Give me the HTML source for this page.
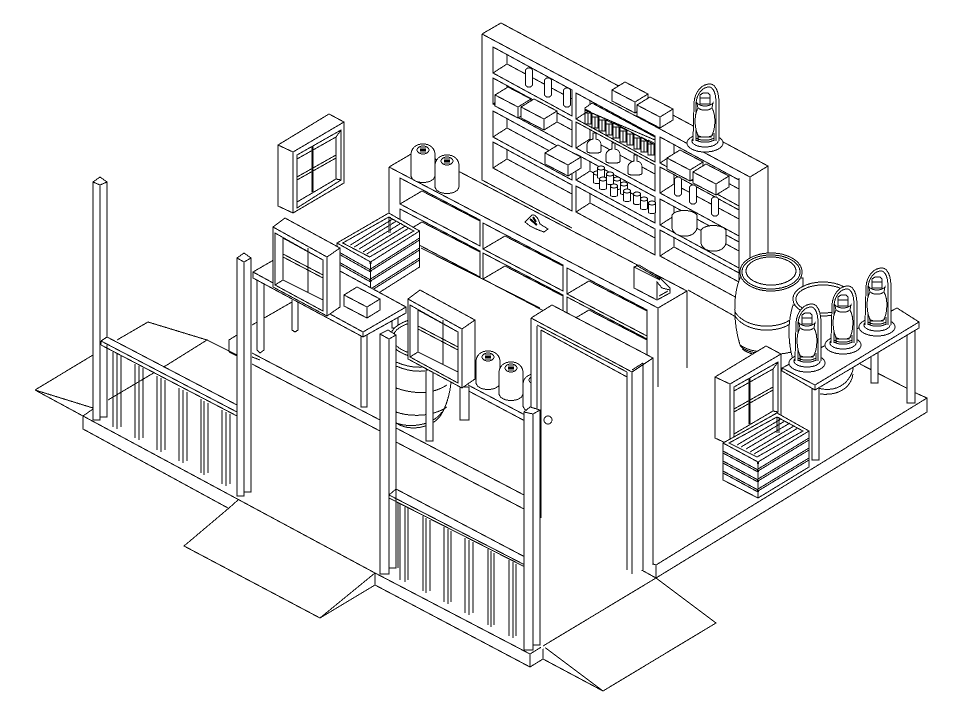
<!DOCTYPE html>
<html><head><meta charset="utf-8"><style>html,body{margin:0;padding:0;background:#fff}svg{display:block}</style></head><body>
<svg xmlns="http://www.w3.org/2000/svg" width="979" height="706" viewBox="0 0 979 706" fill="#fff" stroke="#000" stroke-width="1" shape-rendering="crispEdges">
<defs>
<g id="c1"><path d="M0,0 L79,43 V69 L0,26Z"/><path fill="none" d="M0,26 L14,17 L79,52 M14,8 V17"/></g>
<g id="c2"><path d="M0,0 L80,42 V68 L0,26Z"/><path fill="none" d="M0,26 L22,13 L80,43"/></g>
<g id="box"><path d="M0,0 L13,-8 L36,4 V15 L23,23 L0,11Z"/><path fill="none" d="M0,0 L23,12 L36,4 M23,12 V23"/></g>
<g id="winA"><path d="M0,0 L51,-31 L66,-23 V38 L15,68 L0,61Z"/><path fill="none" d="M0,0 L15,7 V68 M15,7 L66,-23 M19,10 L63,-15 V35 L19,63Z M19,14 L58,-8 V34 L19,57Z M19,10 V14 M63,-15 L58,-8 M63,35 L58,34 M19,63 L19,57 M34,1 V47 M35,1 V47 M19,32 L58,10 M19,35 L58,13"/></g>
<g id="winB"><path d="M0,0 L12,-9 L67,21 V80 L54,89 L0,60Z"/><path fill="none" d="M0,0 L54,30 L67,21 M54,30 V89 M2,6 L50,33 V84 L2,58Z M10,11 L50,33 M10,11 V53 L50,73 M2,58 L10,53 M35,21 V66 M10,27 L50,48 M10,30 L50,51"/></g>
<g id="jug"><path d="M-12,0 C-12,-7 -7,-11 0,-11 C7,-11 12,-7 12,0 V20 C12,30 -12,30 -12,20Z"/><ellipse cx="0" cy="-5" rx="6" ry="4"/><path fill="none" stroke-width="2" d="M-3,-5 H3"/><path fill="none" d="M-3,-7 H3 M-3,-3 H3"/></g>
<g id="lan"><ellipse cx="0" cy="0" rx="18" ry="9"/><ellipse cx="0" cy="-2" rx="13" ry="6"/><path d="M-12,-2 L-11,-40 C-10,-52 -3,-59 5,-59 C11,-59 14,-50 14,-40 L14,-2"/><path fill="none" d="M-9,-2 L-9,-40 C-8,-50 -2,-56 4,-56 C9,-56 11,-48 11,-40 L11,-2 M-7,-2 L-7,-10 M9,-2 L9,-10"/><path d="M-7,-35 C-11,-28 -11,-14 -6,-6 H6 C11,-14 11,-28 7,-35Z"/><path d="M-8,-40 C-4,-36 4,-36 8,-40 L7,-35 C3,-32 -3,-32 -7,-35Z"/><path d="M-5,-48 L-2,-50 H3 L5,-48 V-39 H-5Z"/><path fill="none" d="M-5,-45 H5 M-8,-8 C-4,-5 4,-5 8,-8 M-9,-5 C-4,-2 4,-2 9,-5 M-9,-3 C-4,0 4,0 9,-3"/></g>
<g id="crate"><path d="M0,0 L54,-30 L86,-12 V24 L35,55 L0,37Z"/><path fill="none" d="M0,0 L35,19 L86,-12 M35,19 V55 M6,0 L54,-26 L80,-12 L34,14Z M14,2 L58,-24 M18,4 L62,-22 M23,6 L67,-20 M27,9 L71,-17 M31,11 L75,-15 M54,-26 V-10 M56,-26 V-10 M35,26 L86,-5 M35,28 L86,-3 M35,36 L86,5 M35,38 L86,7 M35,46 L86,15 M35,48 L86,17 M0,8 L35,27 M0,10 L35,29 M0,18 L35,37 M0,20 L35,39 M0,28 L35,47 M0,30 L35,49"/><path fill="none" stroke-width="2" d="M35,19 V21 M35,27 V29 M35,37 V39 M35,47 V49"/></g>
<g id="tin"><rect x="-3" y="0" width="6" height="11"/><path fill="none" d="M-3,-4 V0 M3,-1 V0 M-3,-4 L3,-1 M0,0 V11"/></g>
<g id="jar"><path d="M-3.5,-4 H3.5 V5 C3.5,7 -3.5,7 -3.5,5Z"/><ellipse cx="0" cy="-4" rx="3.5" ry="2"/></g>
<g id="flask"><path d="M-1,-12 H2 V-6 C6,-5 7,-3 7,0 V6 C7,9 -7,9 -7,6 V0 C-7,-3 -5,-5 -1,-6Z"/></g>
<g id="bot"><rect x="-3.5" y="0" width="7" height="19" rx="3"/></g>
</defs>

<!-- floor lines -->
<path fill="none" d="M35,390 L93,355 M117,340 L148,322 L207,340 L167,365 L108,400 M35,390 L83,416 M35,390 L93,408 M83,416 L93,409 M83,416 V429 L228,508 M83,416 L375,573 V585 L530,667 V654 L375,573 M229,508 L238,500 M229,508 L184,546 L320,618 L375,573 M320,618 L375,585 M530,654 L543,646 V659 L530,667 M543,659 L603,691 L543,646 M656,565 V578 M656,565 L927,398 V412 L656,578 M638,568 L656,578 M648,562 L656,565 M860,364 L918,394 L927,398"/>
<path fill="none" d="M207,340 L237,355 M229,352 V340 L237,335 M229,352 L237,356 M252,353 L380,420 M252,364 L380,431 M396,428 L524,495 M396,442 L524,509 M252,325 L292,302 M252,357 L260,360"/>

<!-- back shelf -->
<path stroke="none" d="M482,34 L501,23 L768,166 V256 L750,270 V320 L482,180Z"/>
<path fill="none" d="M482,34 L501,23 L768,166 V256 M482,34 V180 L572,228 M482,34 L750,177 L768,166 M750,177 V290 M739,178 V290"/>
<use href="#c1" x="493" y="47"/><use href="#c1" x="493" y="78"/><use href="#c1" x="493" y="111"/><use href="#c1" x="493" y="142"/>
<use href="#c1" x="576" y="93"/><use href="#c1" x="576" y="122"/><use href="#c1" x="576" y="154"/><use href="#c1" x="576" y="186"/>
<use href="#c1" x="660" y="137"/><use href="#c1" x="660" y="167"/><use href="#c1" x="660" y="199"/><use href="#c1" x="660" y="230"/>
<path fill="none" d="M688,290 L745,322 M739,299 L760,311"/>

<!-- shelf items -->
<use href="#bot" x="529" y="68"/><use href="#bot" x="548" y="78"/><use href="#bot" x="567" y="88"/>
<use href="#bot" x="678" y="177"/><use href="#bot" x="693" y="185"/><use href="#bot" x="715" y="197"/>
<use href="#box" x="495" y="95"/><use href="#box" x="521" y="107"/><use href="#box" x="545" y="153"/>
<use href="#box" x="612" y="90"/><use href="#box" x="637" y="105"/>
<use href="#box" x="667" y="158"/><use href="#box" x="693" y="172"/>
<path d="M585,108 L592,103 L655,137 V140 L585,110Z"/>
<use href="#tin" x="588" y="113"/><use href="#tin" x="595" y="117"/><use href="#tin" x="602" y="120"/><use href="#tin" x="609" y="124"/><use href="#tin" x="616" y="127"/><use href="#tin" x="623" y="131"/><use href="#tin" x="630" y="134"/><use href="#tin" x="637" y="138"/><use href="#tin" x="644" y="141"/><use href="#tin" x="651" y="144"/>
<use href="#flask" x="594" y="145"/><use href="#flask" x="613" y="155"/><use href="#flask" x="635" y="167"/>
<use href="#jar" x="597" y="177"/><use href="#jar" x="601" y="172"/><use href="#jar" x="603" y="183"/><use href="#jar" x="610" y="178"/><use href="#jar" x="617" y="183"/><use href="#jar" x="614" y="190"/><use href="#jar" x="624" y="188"/><use href="#jar" x="627" y="195"/><use href="#jar" x="637" y="198"/><use href="#jar" x="644" y="203"/><use href="#jar" x="652" y="207"/>
<path d="M672,215 C676,209 692,209 697,215 V228 C695,239 674,239 672,228Z"/>
<path d="M701,230 C705,224 722,224 726,230 V243 C724,254 703,254 701,243Z"/>
<use href="#lan" x="705" y="143"/>

<!-- counter -->
<path stroke="none" d="M389,167 L418,150 L687,291 V368 L658,387 L389,245Z"/>
<path fill="none" d="M389,167 L418,150 L687,291 V368 M389,167 V245 M389,167 L658,308 L687,291 M658,308 V387 M647,310 V365"/>
<use href="#c2" x="400" y="178"/><use href="#c2" x="400" y="209"/>
<use href="#c2" x="483" y="223"/><use href="#c2" x="483" y="253"/>
<use href="#c2" x="567" y="268"/><use href="#c2" x="567" y="297"/>
<path fill="none" d="M421,248 L540,308"/>
<use href="#jug" x="423" y="155"/><use href="#jug" x="447" y="166"/>
<path d="M525,222 L532,215 C536,214 539,220 540,224 L548,229 L544,232 L536,229 L530,226Z"/>
<path fill="none" stroke-width="2" d="M530,219 L537,225 M533,217 L536,222"/>
<path d="M634,267 L639,265 L659,277 L670,288 V293 L657,300 L634,288Z"/>
<path fill="none" d="M634,267 L660,280 M636,265 L660,279 M657,299 V282 L662,288 L670,290 M659,296 L668,291"/>

<!-- barrels -->
<path d="M740,278 C733,295 733,322 740,345 C746,357 795,358 803,345 V278Z"/>
<path fill="none" d="M735,312 C745,328 775,330 790,320 M735,316 C745,332 775,334 790,324 M740,345 C750,352 760,352 775,352 M742,349 C752,356 762,356 775,356"/>
<ellipse cx="771" cy="272" rx="31" ry="19"/><ellipse cx="771" cy="272" rx="29" ry="17"/><ellipse cx="771" cy="271" rx="25" ry="14"/>
<path d="M793,305 C785,330 790,360 800,375 C815,395 845,395 853,370 L855,302Z"/>
<ellipse cx="823" cy="299" rx="30" ry="17"/><ellipse cx="823" cy="299" rx="27" ry="14"/>
<path fill="none" d="M820,394 C838,396 851,388 853,374"/>

<!-- right table -->
<rect x="871" y="340" width="7" height="43"/>
<rect x="907" y="322" width="8" height="81"/>
<rect x="812" y="385" width="7" height="75"/>
<path d="M782,368 L897,308 L919,322 V328 L815,390 L782,371Z"/>
<path fill="none" d="M782,368 L815,385 L919,322 M815,385 V390"/>
<use href="#lan" x="877" y="327"/><use href="#lan" x="843" y="345"/><use href="#lan" x="807" y="363"/>
<use href="#winA" x="715" y="377"/>
<use href="#crate" x="723" y="443"/>

<!-- wall window and left table group -->
<use href="#winA" x="278" y="145"/>
<use href="#crate" transform="translate(337,243) scale(.96,1)"/>
<path d="M257,278 H264 V350 L260,353 L257,350Z"/><path fill="none" d="M292,300 V330 L295,332 L298,330 V300"/>
<rect x="392" y="310" width="6" height="18"/>
<rect x="361" y="335" width="6" height="72"/>
<path d="M253,272 L296,247 L406,307 V313 L363,337 L253,278Z"/>
<path fill="none" d="M253,272 L363,332 L406,307 M363,332 V337"/>
<use href="#box" x="344" y="295"/>
<use href="#winB" x="273" y="227"/>

<!-- front barrel, small table, jugs -->
<path d="M391,340 C385,370 388,405 396,423 C410,432 432,428 441,415 C447,405 452,390 452,365Z"/>
<ellipse cx="425" cy="338" rx="35" ry="20"/><ellipse cx="425" cy="338" rx="32" ry="17"/>
<path fill="none" d="M396,362 C405,366 415,368 425,367 M396,366 C405,370 415,372 425,371 M396,388 C410,393 430,396 447,385 M396,412 C410,417 432,417 447,407 M396,423 C410,428 432,426 442,412"/>
<path fill="none" d="M463,388 L525,421 M468,385 L525,415"/>
<rect x="426" y="370" width="7" height="71"/>
<rect x="460" y="387" width="9" height="33"/>
<use href="#jug" x="488" y="362"/><use href="#jug" x="511" y="373"/><use href="#jug" x="535" y="385"/>
<use href="#winB" x="408" y="299"/>

<!-- door -->
<path stroke="none" d="M531,318 L552,305 L653,358 V565 L643,570 H627 V600 L541,650 V420 H531Z"/>
<path fill="none" d="M531,318 L552,305 L653,358 L632,372 L531,318 M537,325 L627,372 M541,330 L627,377 M643,363 L632,370 M531,318 V407 M537,326 V410 M541,330 V518 M627,372 V570 M632,372 V574 M643,363 V570 M653,358 V565"/>
<circle cx="548" cy="420" r="4" fill="#fff"/>
<path fill="none" d="M603,691 L716,623 L656,578 L543,646"/>

<!-- left front rail and slats -->
<path d="M93,182 L100,177 L107,182 V417 H100 V420 H93Z"/>
<path fill="none" d="M93,182 L100,185 L107,182 M100,185 V420 M107,417 V182"/>
<path stroke="none" d="M101,341 L107,337 L237,405 V416 L101,345Z"/>
<path fill="none" d="M107,337 L237,405 M101,341 L237,412 M101,345 L237,416 M101,341 V345 M101,341 L107,337"/>
<path fill="none" d="M107,345 V415 M113,352 V427 M117,354 V429 M121,356 V427 M135,364 V438 M139,366 V440 M143,368 V438 M157,376 V450 M161,378 V452 M165,380 V450 M179,388 V461 M183,390 V463 M187,392 V461 M201,399 V473 M204,401 V475 M208,403 V473 M222,410 V484 M226,412 V486 M230,414 V484"/>
<path d="M237,258 L244,253 L251,258 V492 H244 V496 H237Z"/>
<path fill="none" d="M237,258 L244,262 L251,258 M244,262 V496"/>

<!-- front centre rail and slats -->
<path d="M380,334 L388,330 L396,335 V568 H389 V574 H380Z"/>
<path fill="none" d="M380,334 L389,339 L396,335 M389,339 V574"/>
<path fill="none" d="M396,489 L525,557 M389,495 L525,565 M389,498 L525,567 M389,495 V498 M389,495 L396,489"/>
<path fill="none" d="M398,503 V568 M400,504 V580 M405,507 V582 M408,508 V580 M423,516 V591 M426,518 V593 M430,520 V591 M444,527 V602 M448,529 V604 M451,531 V602 M465,538 V613 M469,540 V615 M473,542 V613 M488,549 V625 M491,551 V627 M494,553 V625 M509,560 V636 M513,562 V638 M516,564 V636"/>
<path d="M524,412 L530,407 L540,410 V645 H533 V650 H524Z"/>
<path fill="none" d="M524,412 L533,414 L540,410 M533,414 V650"/>
</svg>
</body></html>
